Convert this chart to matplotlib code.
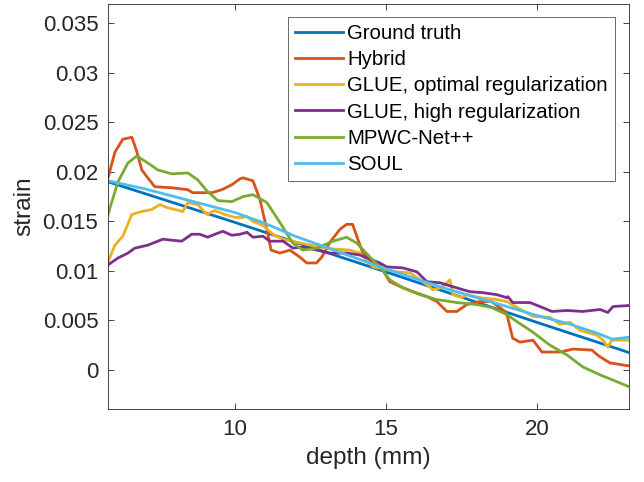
import matplotlib
matplotlib.use("Agg")
import matplotlib.pyplot as plt

plt.rcParams['font.family'] = ['Liberation Sans', 'DejaVu Sans']

labels = ["Ground truth", "Hybrid", "GLUE, optimal regularization",
          "GLUE, high regularization", "MPWC-Net++", "SOUL"]
colors = ["#0072BD", "#D95319", "#EDB120", "#7E2F8E", "#77AC30", "#4DBEEE"]

gt_x = [5.8, 10, 15, 20, 23.05]
gt_y = [0.0190, 0.0149, 0.0099, 0.0048, 0.00175]

hyb_x = [5.8, 6.03, 6.29, 6.59, 6.75, 6.92, 7.09, 7.35, 7.9, 8.44, 8.6, 9.24, 9.57, 9.9,
         10.17, 10.27, 10.6, 10.83, 11.06, 11.2, 11.49, 11.82, 12.15, 12.38, 12.7, 12.88,
         13.15, 13.48, 13.7, 13.9, 14.07, 14.24, 14.57, 14.8, 15.13, 15.56, 15.9, 16.36,
         16.69, 17.02, 17.35, 17.68, 18.1, 18.5, 18.77, 18.99, 19.2, 19.44, 19.87, 20.17,
         20.76, 21.2, 21.82, 22.05, 22.42, 23.05]
hyb_y = [0.0194, 0.0220, 0.0233, 0.0235, 0.0221, 0.0202, 0.0195, 0.0185, 0.0184, 0.0182,
         0.0179, 0.0179, 0.0182, 0.0187, 0.0193, 0.0194, 0.0191, 0.0172, 0.0142, 0.0121,
         0.0118, 0.0121, 0.0114, 0.0108, 0.0108, 0.0114, 0.0129, 0.0142, 0.0147, 0.0147,
         0.0132, 0.0118, 0.0108, 0.0106, 0.0089, 0.0083, 0.0079, 0.0074, 0.0069, 0.0059,
         0.0059, 0.0066, 0.0069, 0.0069, 0.0063, 0.0058, 0.0032, 0.0028, 0.0030, 0.0018,
         0.0018, 0.0021, 0.0020, 0.0014, 0.0007, 0.0004]

glo_x = [5.8, 6.03, 6.29, 6.59, 6.92, 7.25, 7.52, 7.75, 8.01, 8.28, 8.44, 8.77, 9.07, 9.34,
         9.67, 10.0, 10.27, 10.4, 10.6, 10.93, 11.26, 11.6, 12.2, 12.8, 13.3, 13.8, 14.14,
         14.57, 15.36, 15.8, 16.36, 16.56, 16.85, 17.12, 17.22, 17.52, 17.68, 18.1, 18.67,
         19.0, 19.87, 20.43, 20.76, 21.1, 21.42, 21.99, 22.19, 22.35, 22.48, 23.05]
glo_y = [0.0109, 0.0126, 0.0135, 0.0157, 0.0160, 0.0162, 0.0167, 0.0164, 0.0162, 0.0160,
         0.0169, 0.0167, 0.0157, 0.0161, 0.0157, 0.0154, 0.0154, 0.0155, 0.0150, 0.0146,
         0.0137, 0.0132, 0.0128, 0.0124, 0.0122, 0.0121, 0.0118, 0.0104, 0.0099, 0.0098,
         0.0086, 0.0081, 0.0083, 0.0091, 0.0076, 0.0073, 0.0076, 0.0073, 0.0071, 0.0069,
         0.0054, 0.0053, 0.0046, 0.0048, 0.0040, 0.0035, 0.0030, 0.0023, 0.0030, 0.0030]

glh_x = [5.8, 6.13, 6.46, 6.69, 7.12, 7.45, 7.62, 7.91, 8.24, 8.57, 8.84, 9.1, 9.34, 9.6,
         9.9, 10.17, 10.4, 10.6, 10.93, 11.16, 11.6, 11.92, 12.25, 12.72, 13.15, 13.7,
         14.14, 14.8, 15.03, 15.56, 16.03, 16.36, 16.79, 17.22, 17.55, 17.78, 18.21, 18.67,
         19.0, 19.04, 19.2, 19.77, 20.1, 20.5, 21.0, 21.52, 22.09, 22.35, 22.52, 23.05]
glh_y = [0.0106, 0.0113, 0.0118, 0.0123, 0.0126, 0.0130, 0.0132, 0.0131, 0.0130, 0.0137,
         0.0137, 0.0134, 0.0137, 0.0140, 0.0136, 0.0137, 0.0139, 0.0134, 0.0135, 0.0130,
         0.0130, 0.0123, 0.0124, 0.0121, 0.0118, 0.0118, 0.0116, 0.0108, 0.0104, 0.0103,
         0.0099, 0.0089, 0.0088, 0.0084, 0.0081, 0.0079, 0.0078, 0.0076, 0.0073, 0.0074,
         0.0068, 0.0068, 0.0064, 0.0059, 0.0060, 0.0059, 0.0061, 0.0058, 0.0064, 0.0065]

mp_x = [5.8, 6.13, 6.46, 6.75, 7.12, 7.45, 7.91, 8.44, 8.77, 9.1, 9.44, 9.9, 10.27, 10.6,
        11.06, 11.49, 11.92, 12.25, 12.72, 13.25, 13.7, 14.04, 14.47, 14.8, 15.13, 15.56,
        16.13, 16.69, 17.35, 18.0, 18.5, 18.99, 19.33, 19.87, 20.43, 21.0, 21.52, 22.09,
        23.05]
mp_y = [0.0157, 0.0190, 0.0209, 0.0216, 0.0209, 0.0202, 0.0198, 0.0199, 0.0192, 0.0180,
        0.0171, 0.0170, 0.0175, 0.0177, 0.0169, 0.0149, 0.0128, 0.0121, 0.0123, 0.0130,
        0.0134, 0.0128, 0.0114, 0.0104, 0.0091, 0.0083, 0.0076, 0.0071, 0.0068, 0.0066,
        0.0063, 0.0056, 0.0049, 0.0038, 0.0025, 0.0015, 0.0003, -0.0005, -0.0017]

soul_x = [5.8, 7, 8, 9, 10, 11, 12, 13, 14, 15, 16, 17, 18, 19, 20, 21, 22, 22.5, 23.05]
soul_y = [0.0191, 0.0183, 0.0175, 0.0167, 0.0159, 0.0148, 0.0135, 0.0124, 0.0113, 0.0102,
          0.0092, 0.0082, 0.0073, 0.0064, 0.0055, 0.0047, 0.0037, 0.0031, 0.0033]

xticks = [10, 15, 20]
yticks = [0, 0.005, 0.01, 0.015, 0.02, 0.025, 0.03, 0.035]
ytick_labels = ["0", "0.005", "0.01", "0.015", "0.02", "0.025", "0.03", "0.035"]

fig = plt.figure(figsize=(6.44, 4.82), dpi=100)
ax = fig.add_axes([0.1677, 0.1515, 0.809, 0.840])

series = [(gt_x, gt_y), (hyb_x, hyb_y), (glo_x, glo_y), (glh_x, glh_y),
          (mp_x, mp_y), (soul_x, soul_y)]
for (xs, ys), lab, c in zip(series, labels, colors):
    ax.plot(xs, ys, color=c, lw=2.0, label=lab, solid_joinstyle='round')

ax.set_xlim(5.8, 23.05)
ax.set_ylim(-0.00395, 0.03695)
ax.set_xticks(xticks)
ax.set_xticklabels([str(t) for t in xticks])
ax.set_yticks(yticks)
ax.set_yticklabels(ytick_labels)

axc = '#262626'
for s in ax.spines.values():
    s.set_color(axc)
    s.set_linewidth(0.6)
ax.tick_params(direction='in', length=4, width=0.6, color=axc, labelcolor=axc,
               labelsize=16, top=True, right=True, pad=7)
ax.set_xlabel("depth (mm)", fontsize=17.6, color=axc, labelpad=5)
ax.set_ylabel("strain", fontsize=17.6, color=axc, labelpad=5)

leg = ax.legend(loc='upper right', bbox_to_anchor=(0.973, 0.968), borderaxespad=0,
                fontsize=14.7, frameon=True, fancybox=False, handlelength=2.35,
                handletextpad=0.2, labelspacing=0.35, borderpad=0.35)
leg.get_frame().set_edgecolor(axc)
leg.get_frame().set_linewidth(0.6)
for t in leg.get_texts():
    t.set_color('black')

fig.savefig("out.png", dpi=100)
